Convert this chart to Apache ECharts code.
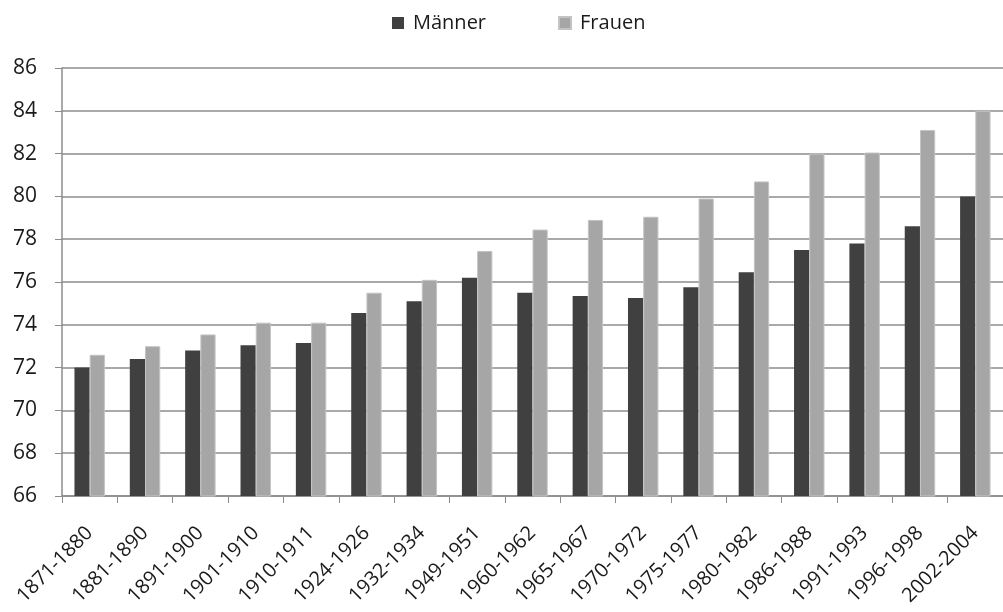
<!DOCTYPE html>
<html>
<head>
<meta charset="utf-8">
<script src="https://cdn.jsdelivr.net/npm/echarts@6/dist/echarts.min.js"></script>
<style>
  html, body { margin: 0; padding: 0; background: #fff; }
  #chart { width: 1003px; height: 612px; }
</style>
</head>
<body>
<div id="chart"></div>
<script>
const categories = [
  '1871-1880', '1881-1890', '1891-1900', '1901-1910', '1910-1911', '1924-1926',
  '1932-1934', '1949-1951', '1960-1962', '1965-1967', '1970-1972', '1975-1977',
  '1980-1982', '1986-1988', '1991-1993', '1996-1998', '2002-2004'
]
const maenner = [72.0, 72.4, 72.8, 73.05, 73.15, 74.55, 75.1, 76.2, 75.5, 75.35, 75.25, 75.75, 76.45, 77.5, 77.8, 78.6, 80.0]
const frauen = [72.6, 73.0, 73.55, 74.1, 74.1, 75.5, 76.1, 77.45, 78.45, 78.9, 79.05, 79.9, 80.7, 82.0, 82.05, 83.1, 84.0]

const font = '"Open Sans", "Noto Sans", sans-serif'
const axisGray = '#8c8c8c'

const chart = echarts.init(document.getElementById('chart'))
chart.setOption({
  animation: false,
  textStyle: { fontFamily: font },
  legend: {
    left: 387,
    top: 8,
    itemWidth: 12,
    itemHeight: 12,
    itemGap: 72,
    icon: 'rect',
    textStyle: { fontSize: 20, color: '#1a1a1a', padding: [0, 0, 0, 4] },
    data: ['Männer', 'Frauen']
  },
  grid: { left: 62, top: 68, width: 953, height: 428, containLabel: false },
  xAxis: {
    type: 'category',
    data: categories,
    axisLine: { lineStyle: { color: axisGray, width: 1.5 } },
    axisTick: { show: true, length: 7, lineStyle: { color: axisGray } },
    axisLabel: {
      interval: 0,
      rotate: 45,
      margin: 34,
      fontSize: 20,
      color: '#1a1a1a'
    }
  },
  yAxis: {
    type: 'value',
    min: 66,
    max: 86,
    interval: 2,
    axisLine: { show: true, lineStyle: { color: axisGray, width: 1.5 } },
    axisTick: { show: true, length: 7, lineStyle: { color: axisGray } },
    axisLabel: { fontSize: 21, color: '#1a1a1a', margin: 25 },
    splitLine: { lineStyle: { color: axisGray, width: 1.5 } }
  },
  series: [
    {
      name: 'Männer',
      type: 'bar',
      data: maenner,
      barGap: '0%',
      barCategoryGap: '45%',
      itemStyle: { color: '#404040' }
    },
    {
      name: 'Frauen',
      type: 'bar',
      data: frauen,
      itemStyle: { color: '#a6a6a6', borderColor: '#c4c4c4', borderWidth: 1 }
    }
  ]
})
</script>
</body>
</html>
